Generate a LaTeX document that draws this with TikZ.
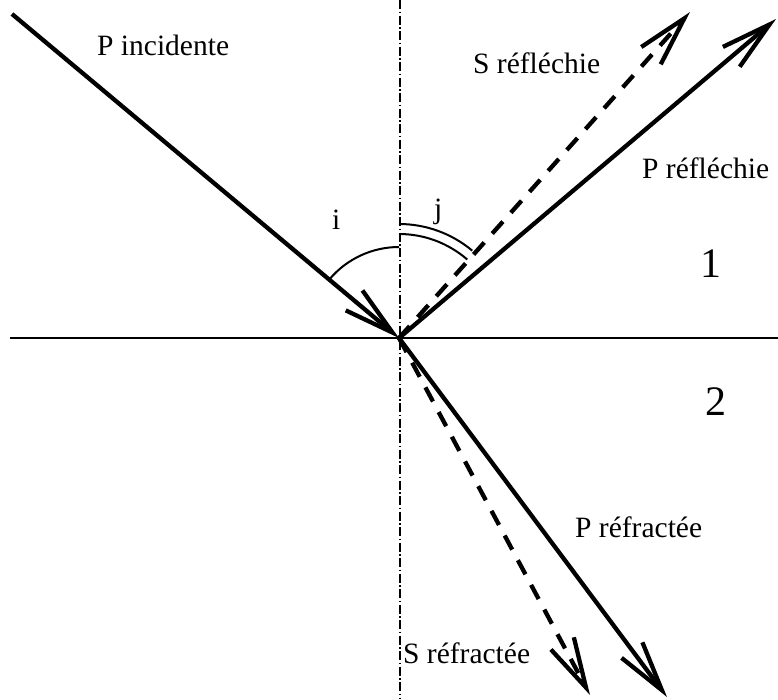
\documentclass[tikz,border=0pt]{standalone}
\usepackage{fontspec}
\setmainfont{Liberation Serif}
\usetikzlibrary{arrows.meta}
\begin{document}
\begin{tikzpicture}[x=1pt,y=-1pt,
  ray/.style={line width=4.3pt,-{Straight Barb[length=50pt,width=26pt,line width=4.3pt]}},
  sray/.style={ray,dash pattern=on 16pt off 12pt},
  axis/.style={line width=1.2pt},
  normal/.style={line width=1.3pt,dash pattern=on 9pt off 2.5pt on 1.5pt off 2.5pt},
  lab/.style={inner sep=0pt,anchor=base west,font=\fontsize{29.5}{32}\selectfont},
  num/.style={inner sep=0pt,anchor=base,font=\fontsize{42}{46}\selectfont},
  ang/.style={line width=2pt}]
\useasboundingbox (0,0) rectangle (778,699);
\coordinate (O) at (399,338);
\coordinate (hL) at (10,338);
\coordinate (hR) at (778,338);
\coordinate (vT) at (400,0);
\coordinate (vB) at (400,699);
\coordinate (inc) at (12,14);
\coordinate (pr) at (776,19);
\coordinate (sr) at (690,12);
\coordinate (pt) at (667,697);
\coordinate (st) at (590,695);
% axes
\draw[axis] (hL) -- (hR);
\draw[normal] (vT) -- (vB);
% rays
\draw[ray] (inc) -- (O);
\draw[ray] (O) -- (pr);
\draw[sray] (O) -- (sr);
\draw[ray] (O) -- (pt);
\draw[sray] (O) -- (st);
% angles
\draw[ang] (O) ++(-90:91) arc[start angle=-90,end angle=-140,radius=91];
\draw[ang] (O) ++(-90:104) arc[start angle=-90,end angle=-49,radius=104];
\draw[ang] (O) ++(-90:114) arc[start angle=-90,end angle=-50,radius=114];
% labels
\node[lab] (lpi) at (97,55) {P incidente};
\node[lab] (lsr) at (473,73) {S réfléchie};
\node[lab] (lpr) at (642,178) {P réfléchie};
\node[lab] (lpt) at (575,537) {P réfractée};
\node[lab] (lst) at (403,663) {S réfractée};
\node[lab] (li) at (332,229) {i};
\node[lab] (lj) at (434,218) {j};
\node[num] (n1) at (711,277) {1};
\node[num] (n2) at (716,415) {2};
\end{tikzpicture}
\end{document}
